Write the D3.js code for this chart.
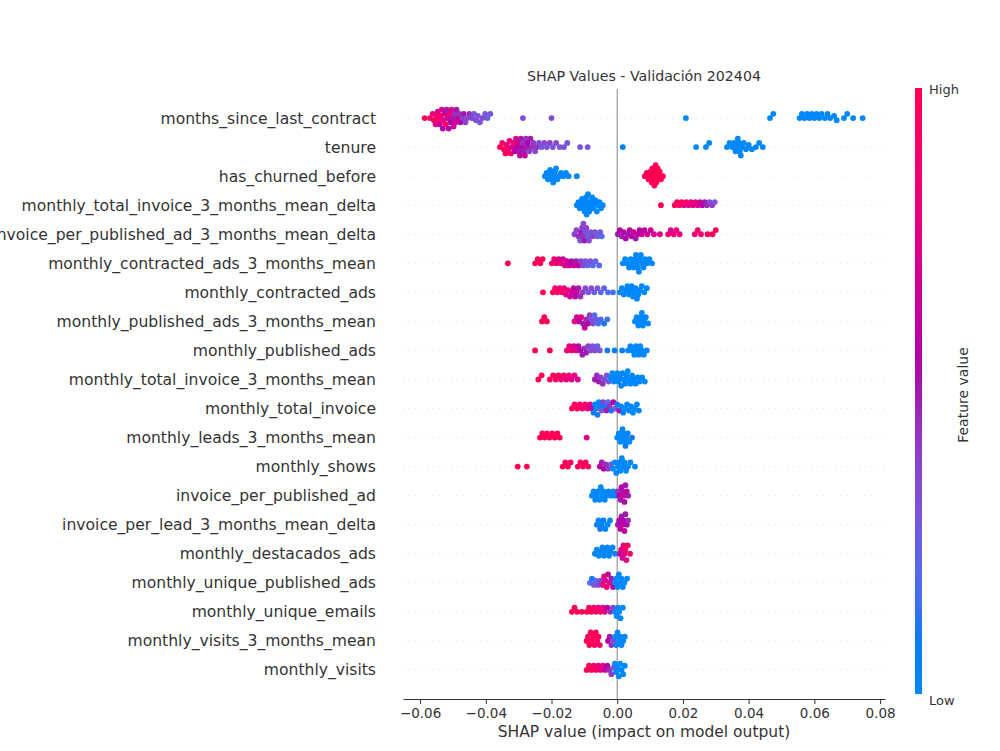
<!DOCTYPE html>
<html>
<head>
<meta charset="utf-8">
<script src="https://cdn.jsdelivr.net/npm/d3@7"></script>
<style>
  body { margin: 0; background: #fff; }
  text { font-family: "DejaVu Sans", sans-serif; }
</style>
</head>
<body>
<div id="chart"></div>
<script>
// Feature names, top to bottom
const featureNames = [
  "months_since_last_contract", "tenure", "has_churned_before",
  "monthly_total_invoice_3_months_mean_delta", "invoice_per_published_ad_3_months_mean_delta",
  "monthly_contracted_ads_3_months_mean", "monthly_contracted_ads",
  "monthly_published_ads_3_months_mean", "monthly_published_ads",
  "monthly_total_invoice_3_months_mean", "monthly_total_invoice",
  "monthly_leads_3_months_mean", "monthly_shows", "invoice_per_published_ad",
  "invoice_per_lead_3_months_mean_delta", "monthly_destacados_ads",
  "monthly_unique_published_ads", "monthly_unique_emails",
  "monthly_visits_3_months_mean", "monthly_visits"
];

// [shap value, feature value (0 = low, 1 = high)]
const monthsSinceLastContract = [[-0.0586,0.95],[-0.0570,0.9],[-0.0562,0.85],[-0.0558,0.95],[-0.0553,0.8],[-0.0550,0.9],[-0.0546,0.7],[-0.0543,0.85],[-0.0540,0.6],[-0.0537,0.9],[-0.0534,0.75],[-0.0531,0.55],[-0.0528,0.8],[-0.0525,0.65],[-0.0522,0.9],[-0.0519,0.5],[-0.0516,0.7],[-0.0513,0.6],[-0.0510,0.85],[-0.0507,0.55],[-0.0504,0.75],[-0.0501,0.5],[-0.0498,0.65],[-0.0495,0.45],[-0.0492,0.7],[-0.0489,0.5],[-0.0485,0.6],[-0.0481,0.45],[-0.0477,0.55],[-0.0472,0.4],[-0.0467,0.5],[-0.0462,0.4],[-0.0456,0.35],[-0.0450,0.45],[-0.0442,0.35],[-0.0436,0.3],[-0.0430,0.35],[-0.0424,0.3],[-0.0418,0.3],[-0.0410,0.35],[-0.0402,0.3],[-0.0395,0.25],[-0.0386,0.3],[-0.0287,0.35],[-0.0200,0.35],[0.0209,0],[0.0465,0],[0.0475,0],[0.0555,0],[0.0562,0],[0.0570,0],[0.0578,0],[0.0585,0],[0.0592,0],[0.0600,0],[0.0607,0],[0.0615,0],[0.0622,0],[0.0632,0],[0.0640,0],[0.0648,0],[0.0660,0],[0.0668,0],[0.0690,0],[0.0700,0],[0.0718,0],[0.0747,0]];
const tenure = [[-0.0357,1],[-0.0350,0.95],[-0.0345,0.9],[-0.0340,1],[-0.0336,0.85],[-0.0332,0.95],[-0.0328,0.8],[-0.0324,0.9],[-0.0320,0.7],[-0.0316,0.85],[-0.0312,0.6],[-0.0308,0.75],[-0.0305,0.55],[-0.0302,0.65],[-0.0299,0.5],[-0.0296,0.6],[-0.0293,0.5],[-0.0290,0.55],[-0.0287,0.45],[-0.0284,0.5],[-0.0281,0.6],[-0.0278,0.45],[-0.0275,0.5],[-0.0272,0.55],[-0.0268,0.4],[-0.0264,0.5],[-0.0260,0.45],[-0.0255,0.4],[-0.0250,0.35],[-0.0244,0.45],[-0.0238,0.35],[-0.0230,0.3],[-0.0222,0.35],[-0.0214,0.3],[-0.0205,0.4],[-0.0196,0.3],[-0.0186,0.35],[-0.0175,0.3],[-0.0162,0.3],[-0.0152,0.3],[-0.0113,0.3],[-0.0090,0.3],[0.0017,0.05],[0.0240,0],[0.0270,0],[0.0280,0],[0.0334,0],[0.0342,0],[0.0350,0],[0.0356,0],[0.0360,0],[0.0364,0],[0.0367,0],[0.0370,0],[0.0373,0],[0.0376,0],[0.0380,0],[0.0385,0],[0.0392,0],[0.0400,0],[0.0410,0],[0.0422,0],[0.0432,0],[0.0443,0]];
const hasChurnedBefore = [[-0.0220,0],[-0.0215,0],[-0.0211,0],[-0.0207,0],[-0.0204,0],[-0.0201,0],[-0.0198,0],[-0.0195,0],[-0.0192,0],[-0.0189,0],[-0.0186,0],[-0.0182,0],[-0.0177,0],[-0.0171,0],[-0.0164,0],[-0.0156,0],[-0.0148,0],[-0.0123,0],[0.0084,1],[0.0090,1],[0.0095,1],[0.0099,1],[0.0102,1],[0.0105,1],[0.0107,1],[0.0109,1],[0.0111,1],[0.0113,1],[0.0115,1],[0.0117,1],[0.0119,1],[0.0121,1],[0.0123,1],[0.0126,1],[0.0129,1],[0.0133,1],[0.0139,1]];
const totalInvoice3mDelta = [[-0.0123,0],[-0.0118,0],[-0.0114,0],[-0.0110,0],[-0.0107,0],[-0.0104,0],[-0.0101,0],[-0.0099,0],[-0.0097,0],[-0.0095,0],[-0.0093,0],[-0.0091,0],[-0.0089,0],[-0.0087,0],[-0.0085,0],[-0.0082,0],[-0.0079,0],[-0.0076,0],[-0.0073,0],[-0.0070,0],[-0.0066,0],[-0.0062,0],[-0.0058,0],[-0.0054,0],[-0.0049,0],[-0.0044,0],[0.0133,1],[0.0175,1],[0.0182,0.95],[0.0189,0.9],[0.0196,0.95],[0.0203,0.85],[0.0210,0.9],[0.0217,0.8],[0.0224,0.85],[0.0231,0.75],[0.0238,0.8],[0.0245,0.7],[0.0252,0.65],[0.0259,0.6],[0.0266,0.5],[0.0273,0.45],[0.0281,0.35],[0.0289,0.4],[0.0297,0.3]];
const invoicePerAd3mDelta = [[-0.0130,0.4],[-0.0124,0.35],[-0.0118,0.45],[-0.0113,0.3],[-0.0110,0.5],[-0.0107,0.4],[-0.0105,0.45],[-0.0103,0.35],[-0.0100,0.5],[-0.0097,0.3],[-0.0094,0.4],[-0.0090,0.25],[-0.0086,0.35],[-0.0081,0.3],[-0.0075,0.4],[-0.0068,0.3],[-0.0060,0.25],[-0.0052,0.3],[-0.0047,0.2],[0.0002,0.5],[0.0008,0.55],[0.0014,0.5],[0.0020,0.6],[0.0026,0.55],[0.0032,0.5],[0.0038,0.6],[0.0044,0.55],[0.0050,0.65],[0.0056,0.5],[0.0062,0.6],[0.0068,0.55],[0.0075,0.65],[0.0083,0.6],[0.0092,0.7],[0.0102,0.65],[0.0112,0.7],[0.0130,0.75],[0.0155,0.8],[0.0163,0.75],[0.0172,0.85],[0.0180,0.8],[0.0190,0.8],[0.0236,0.85],[0.0245,0.9],[0.0255,0.85],[0.0275,0.95],[0.0290,0.95],[0.0300,1]];
const contractedAds3m = [[-0.0333,1],[-0.0250,1],[-0.0242,0.95],[-0.0234,1],[-0.0227,0.95],[-0.0199,0.9],[-0.0192,0.85],[-0.0185,0.8],[-0.0178,0.75],[-0.0171,0.8],[-0.0165,0.7],[-0.0159,0.75],[-0.0153,0.65],[-0.0146,0.6],[-0.0139,0.55],[-0.0132,0.7],[-0.0125,0.5],[-0.0118,0.6],[-0.0111,0.4],[-0.0104,0.35],[-0.0097,0.3],[-0.0090,0.25],[-0.0082,0.3],[-0.0074,0.2],[-0.0066,0.25],[-0.0055,0.2],[0.0017,0],[0.0024,0],[0.0030,0],[0.0036,0],[0.0041,0],[0.0046,0],[0.0050,0],[0.0054,0],[0.0057,0],[0.0060,0],[0.0063,0],[0.0066,0],[0.0069,0],[0.0072,0],[0.0076,0],[0.0080,0],[0.0085,0],[0.0091,0],[0.0098,0],[0.0106,0]];
const contractedAds = [[-0.0226,1],[-0.0196,1],[-0.0189,0.95],[-0.0182,0.9],[-0.0175,0.85],[-0.0168,0.95],[-0.0162,0.8],[-0.0156,0.75],[-0.0150,0.85],[-0.0144,0.7],[-0.0138,0.65],[-0.0133,0.6],[-0.0128,0.55],[-0.0123,0.65],[-0.0118,0.5],[-0.0112,0.45],[-0.0105,0.4],[-0.0097,0.35],[-0.0088,0.3],[-0.0079,0.35],[-0.0070,0.25],[-0.0060,0.3],[-0.0050,0.2],[-0.0040,0.25],[-0.0028,0.2],[-0.0013,0.15],[0.0008,0],[0.0014,0],[0.0020,0],[0.0026,0],[0.0031,0],[0.0036,0],[0.0040,0],[0.0044,0],[0.0048,0],[0.0052,0],[0.0056,0],[0.0060,0],[0.0064,0],[0.0069,0],[0.0075,0],[0.0082,0],[0.0090,0]];
const publishedAds3m = [[-0.0229,1],[-0.0222,1],[-0.0214,1],[-0.0130,0.8],[-0.0123,0.7],[-0.0116,0.6],[-0.0110,0.75],[-0.0104,0.5],[-0.0099,0.6],[-0.0094,0.45],[-0.0089,0.55],[-0.0084,0.4],[-0.0079,0.3],[-0.0074,0.35],[-0.0069,0.2],[-0.0064,0.25],[-0.0058,0.15],[-0.0050,0.2],[-0.0040,0.1],[-0.0030,0.15],[0.0054,0],[0.0059,0],[0.0064,0],[0.0068,0],[0.0072,0],[0.0075,0],[0.0078,0],[0.0082,0],[0.0087,0],[0.0094,0]];
const publishedAds = [[-0.0250,1],[-0.0205,1],[-0.0153,0.9],[-0.0146,0.85],[-0.0139,0.8],[-0.0132,0.7],[-0.0125,0.75],[-0.0118,0.6],[-0.0112,0.55],[-0.0106,0.5],[-0.0100,0.45],[-0.0094,0.5],[-0.0088,0.4],[-0.0082,0.35],[-0.0075,0.3],[-0.0068,0.35],[-0.0060,0.25],[-0.0053,0.3],[-0.0030,0.1],[-0.0008,0.05],[0.0015,0.05],[0.0033,0],[0.0040,0],[0.0046,0],[0.0052,0],[0.0057,0],[0.0062,0],[0.0066,0],[0.0070,0],[0.0075,0],[0.0081,0],[0.0090,0]];
const totalInvoice3m = [[-0.0240,1],[-0.0230,1],[-0.0205,1],[-0.0195,0.95],[-0.0187,0.9],[-0.0179,0.95],[-0.0171,0.85],[-0.0163,0.9],[-0.0155,0.8],[-0.0147,0.85],[-0.0139,0.75],[-0.0130,0.8],[-0.0120,0.7],[-0.0068,0.5],[-0.0062,0.45],[-0.0056,0.5],[-0.0050,0.4],[-0.0044,0.45],[-0.0038,0.35],[-0.0032,0.3],[-0.0026,0.25],[-0.0020,0],[-0.0015,0],[-0.0010,0],[-0.0005,0],[0.0000,0],[0.0004,0],[0.0008,0],[0.0012,0],[0.0016,0],[0.0020,0],[0.0024,0],[0.0028,0],[0.0032,0],[0.0036,0],[0.0040,0],[0.0045,0],[0.0050,0],[0.0056,0],[0.0062,0],[0.0068,0],[0.0076,0],[0.0084,0]];
const totalInvoice = [[-0.0138,1],[-0.0130,0.95],[-0.0122,1],[-0.0114,0.9],[-0.0106,0.85],[-0.0098,0.95],[-0.0090,0.8],[-0.0083,0.75],[-0.0077,0.6],[-0.0072,0.1],[-0.0068,0.05],[-0.0064,0],[-0.0060,0.1],[-0.0056,0],[-0.0052,0.05],[-0.0048,0.3],[-0.0043,0.4],[-0.0038,0.1],[-0.0033,0.5],[-0.0028,0.2],[-0.0023,0.45],[-0.0018,0.1],[-0.0012,0.55],[-0.0006,0.3],[0.0000,0.1],[0.0006,0.5],[0.0012,0],[0.0018,0.05],[0.0024,0],[0.0030,0],[0.0036,0],[0.0042,0],[0.0048,0],[0.0054,0],[0.0060,0],[0.0066,0]];
const leads3m = [[-0.0235,1],[-0.0228,1],[-0.0221,1],[-0.0214,0.95],[-0.0206,1],[-0.0198,0.95],[-0.0190,1],[-0.0182,0.95],[-0.0175,1],[-0.0093,0.75],[0.0000,0],[0.0005,0],[0.0009,0],[0.0013,0],[0.0016,0],[0.0019,0],[0.0022,0],[0.0025,0.1],[0.0028,0],[0.0032,0.05],[0.0037,0],[0.0045,0.1]];
const shows = [[-0.0303,1],[-0.0275,1],[-0.0166,1],[-0.0158,0.95],[-0.0150,1],[-0.0142,0.95],[-0.0120,1],[-0.0112,0.95],[-0.0104,1],[-0.0096,0.9],[-0.0088,0.95],[-0.0053,0.6],[-0.0047,0.5],[-0.0041,0.55],[-0.0035,0.45],[-0.0028,0.4],[-0.0020,0.3],[-0.0013,0],[-0.0008,0],[-0.0003,0],[0.0002,0],[0.0006,0],[0.0010,0],[0.0014,0],[0.0018,0],[0.0022,0],[0.0027,0],[0.0033,0],[0.0040,0],[0.0054,0]];
const invoicePerAd = [[-0.0077,0],[-0.0072,0],[-0.0067,0],[-0.0062,0],[-0.0058,0],[-0.0054,0],[-0.0050,0],[-0.0046,0],[-0.0042,0],[-0.0038,0],[-0.0033,0],[-0.0027,0],[-0.0020,0],[-0.0012,0],[-0.0007,0],[0.0002,0.45],[0.0006,0.55],[0.0010,0.5],[0.0013,0.6],[0.0016,0.5],[0.0019,0.65],[0.0022,0.55],[0.0025,0.5],[0.0029,0.6],[0.0033,0.5]];
const invoicePerLead3mDelta = [[-0.0062,0.1],[-0.0057,0],[-0.0052,0.1],[-0.0047,0],[-0.0042,0.05],[-0.0036,0],[-0.0029,0],[-0.0022,0],[0.0002,0.5],[0.0006,0.55],[0.0010,0.6],[0.0013,0.5],[0.0016,0.65],[0.0019,0.55],[0.0022,0.6],[0.0025,0.5],[0.0029,0.55],[0.0033,0.45]];
const destacadosAds = [[-0.0068,0],[-0.0062,0],[-0.0056,0],[-0.0050,0],[-0.0045,0],[-0.0040,0],[-0.0035,0],[-0.0030,0],[-0.0025,0],[-0.0020,0],[-0.0014,0],[-0.0007,0],[0.0008,0.6],[0.0012,0.7],[0.0016,0.65],[0.0019,0.8],[0.0022,0.75],[0.0025,0.9],[0.0028,0.8],[0.0032,0.95],[0.0039,0.9]];
const uniquePublishedAds = [[-0.0083,0.2],[-0.0077,0.1],[-0.0071,0.3],[-0.0065,0.2],[-0.0058,0.35],[-0.0050,0.4],[-0.0044,0.8],[-0.0040,0.9],[-0.0036,0.7],[-0.0032,0.85],[-0.0028,0.6],[-0.0023,0.75],[-0.0018,0.5],[-0.0013,0.6],[-0.0007,0],[-0.0003,0],[0.0001,0],[0.0005,0],[0.0009,0],[0.0013,0],[0.0017,0],[0.0022,0],[0.0030,0]];
const uniqueEmails = [[-0.0138,1],[-0.0130,1],[-0.0122,0.95],[-0.0108,1],[-0.0093,1],[-0.0086,0.95],[-0.0079,1],[-0.0072,0.9],[-0.0065,0.95],[-0.0058,0.85],[-0.0051,0.9],[-0.0044,0.8],[-0.0038,0.75],[-0.0030,0.55],[-0.0021,0.45],[-0.0013,0.4],[-0.0007,0],[-0.0002,0],[0.0002,0],[0.0006,0],[0.0010,0],[0.0017,0]];
const visits3m = [[-0.0093,1],[-0.0089,0.95],[-0.0085,1],[-0.0081,0.95],[-0.0077,1],[-0.0073,1],[-0.0069,0.95],[-0.0065,1],[-0.0061,0.9],[-0.0057,0.95],[-0.0053,0.9],[-0.0028,0.55],[-0.0023,0.5],[-0.0018,0.45],[-0.0011,0.35],[-0.0007,0],[-0.0003,0],[0.0001,0],[0.0005,0],[0.0009,0],[0.0013,0],[0.0018,0],[0.0023,0]];
const visits = [[-0.0093,1],[-0.0086,0.95],[-0.0079,1],[-0.0072,0.9],[-0.0065,0.95],[-0.0058,0.85],[-0.0051,0.8],[-0.0044,0.75],[-0.0037,0.65],[-0.0030,0.55],[-0.0024,0.45],[-0.0018,0.4],[-0.0012,0.3],[-0.0007,0],[-0.0003,0],[0.0001,0],[0.0005,0],[0.0009,0],[0.0013,0],[0.0018,0],[0.0023,0]];

const rowPoints = [
  monthsSinceLastContract, tenure, hasChurnedBefore, totalInvoice3mDelta, invoicePerAd3mDelta,
  contractedAds3m, contractedAds, publishedAds3m, publishedAds, totalInvoice3m, totalInvoice,
  leads3m, shows, invoicePerAd, invoicePerLead3mDelta, destacadosAds, uniquePublishedAds,
  uniqueEmails, visits3m, visits
];

const xTicks = [-0.06, -0.04, -0.02, 0.00, 0.02, 0.04, 0.06, 0.08];

// Layout
const W = 1000, H = 751;
const plotLeft = 403, plotRight = 885, plotTop = 89, plotBottom = 699;

const svg = d3.select("#chart").append("svg")
  .attr("width", W)
  .attr("height", H);

const x = d3.scaleLinear().domain([-0.0652, 0.0815]).range([plotLeft, plotRight]);
const y = d3.scaleLinear().domain([-1, featureNames.length]).range([plotTop, plotBottom]);

// shap red_blue colormap (LCH interpolation)
function shapColor(t) {
  const h = 266.93 + t * (380.32 - 266.93);
  const c = 70 + 20 * t;
  const l = t < 0.5 ? 54 - 28 * t : 40 + 28 * (t - 0.5);
  return d3.hcl(h % 360, c, l).formatHex();
}

// Dotted row guides
svg.append("g")
  .selectAll("line")
  .data(featureNames)
  .join("line")
    .attr("x1", plotLeft)
    .attr("x2", plotRight)
    .attr("y1", (d, i) => y(i))
    .attr("y2", (d, i) => y(i))
    .attr("stroke", "#d4d4d4")
    .attr("stroke-width", 0.7)
    .attr("stroke-dasharray", "1,5");

// Zero line
svg.append("line")
  .attr("x1", x(0)).attr("x2", x(0))
  .attr("y1", plotTop).attr("y2", plotBottom)
  .attr("stroke", "#999")
  .attr("stroke-width", 1.2);

// Beeswarm dodge within each row
const r = 2.9;
const minDist = 4.2;
const maxSpread = 11;
rowPoints.forEach((pts, i) => {
  const sorted = pts.map(p => ({px: x(p[0]), fv: p[1]})).sort((a, b) => a.px - b.px);
  const placed = [];
  sorted.forEach(p => {
    let k = 0, off = 0;
    while (true) {
      off = Math.ceil(k / 2) * (k % 2 === 0 ? 1 : -1) * 2.1;
      const hit = placed.some(q => Math.abs(q.px - p.px) < minDist &&
        (q.px - p.px) ** 2 + (q.off - off) ** 2 < minDist * minDist);
      if (!hit) break;
      k++;
    }
    p.off = off;
    placed.push(p);
  });
  const spread = d3.max(placed, p => Math.abs(p.off));
  const s = spread > maxSpread ? maxSpread / spread : 1;
  svg.append("g")
    .selectAll("circle")
    .data(placed)
    .join("circle")
      .attr("cx", d => d.px)
      .attr("cy", d => y(i) + d.off * s)
      .attr("r", r)
      .attr("fill", d => shapColor(d.fv));
});

// Feature labels
svg.append("g")
  .selectAll("text")
  .data(featureNames)
  .join("text")
    .attr("x", 376)
    .attr("y", (d, i) => y(i))
    .attr("dy", "0.35em")
    .attr("text-anchor", "end")
    .attr("font-size", 15.6)
    .attr("fill", "#333")
    .text(d => d);

// X axis
const xAxis = svg.append("g")
  .attr("transform", `translate(0,${plotBottom})`)
  .call(d3.axisBottom(x).tickValues(xTicks).tickFormat(d3.format(".2f")).tickSize(5).tickSizeOuter(0));
xAxis.select(".domain").attr("stroke", "#333");
xAxis.selectAll(".tick line").attr("stroke", "#333");
xAxis.selectAll(".tick text")
  .attr("font-size", 13.5)
  .attr("font-family", "DejaVu Sans")
  .attr("fill", "#333")
  .attr("dy", "0.85em");

svg.append("text")
  .attr("x", (plotLeft + plotRight) / 2)
  .attr("y", 737)
  .attr("text-anchor", "middle")
  .attr("font-size", 15.5)
  .attr("fill", "#333")
  .text("SHAP value (impact on model output)");

// Title
svg.append("text")
  .attr("x", (plotLeft + plotRight) / 2)
  .attr("y", 81)
  .attr("text-anchor", "middle")
  .attr("font-size", 14.2)
  .attr("fill", "#333")
  .text("SHAP Values - Validación 202404");

// Colorbar
const cbX = 915, cbW = 7, cbTop = 88, cbBottom = 694;
const grad = svg.append("defs").append("linearGradient")
  .attr("id", "cbar")
  .attr("x1", 0).attr("y1", 1).attr("x2", 0).attr("y2", 0);
grad.selectAll("stop")
  .data(d3.range(0, 1.0001, 0.05))
  .join("stop")
    .attr("offset", d => d)
    .attr("stop-color", d => shapColor(d));
svg.append("rect")
  .attr("x", cbX).attr("y", cbTop)
  .attr("width", cbW).attr("height", cbBottom - cbTop)
  .attr("fill", "url(#cbar)");

svg.append("text")
  .attr("x", 929).attr("y", 94)
  .attr("font-size", 13).attr("fill", "#333")
  .text("High");
svg.append("text")
  .attr("x", 929).attr("y", 705)
  .attr("font-size", 13).attr("fill", "#333")
  .text("Low");
svg.append("text")
  .attr("transform", "translate(968,395) rotate(-90)")
  .attr("text-anchor", "middle")
  .attr("font-size", 14)
  .attr("fill", "#333")
  .text("Feature value");
</script>
</body>
</html>
